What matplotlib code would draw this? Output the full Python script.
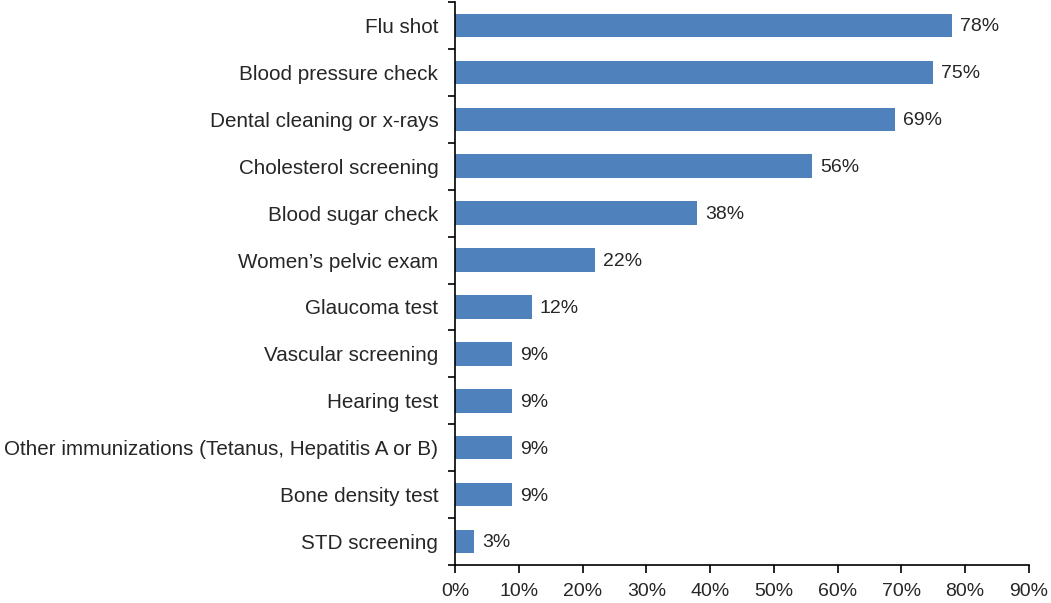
import matplotlib

matplotlib.use("Agg")
import matplotlib.pyplot as plt
from matplotlib.ticker import FixedLocator, PercentFormatter

categories = [
    "Flu shot",
    "Blood pressure check",
    "Dental cleaning or x-rays",
    "Cholesterol screening",
    "Blood sugar check",
    "Women\u2019s pelvic exam",
    "Glaucoma test",
    "Vascular screening",
    "Hearing test",
    "Other immunizations (Tetanus, Hepatitis A or B)",
    "Bone density test",
    "STD screening",
]
shares = [78, 75, 69, 56, 38, 22, 12, 9, 9, 9, 9, 3]
x_ticks = [0, 10, 20, 30, 40, 50, 60, 70, 80, 90]

plt.rcParams["font.family"] = ["Liberation Sans", "DejaVu Sans"]
text_color = "#262626"

fig = plt.figure(figsize=(10.51, 6.03), dpi=100)
ax = fig.add_axes([0.4329, 0.063, 0.979 - 0.4329, 0.9967 - 0.063])

positions = list(range(len(categories)))
bars = ax.barh(positions, shares, height=0.5, color="#4F81BD", zorder=2)
for bar, value in zip(bars, shares):
    ax.text(value + 1.2, bar.get_y() + bar.get_height() / 2 + 0.03, f"{value}%",
            va="center", ha="left", fontsize=14, color=text_color)

ax.set_xlim(0, 90)
ax.set_ylim(len(categories) - 0.5, -0.5)
ax.xaxis.set_major_locator(FixedLocator(x_ticks))
ax.xaxis.set_major_formatter(PercentFormatter(decimals=0))

# category labels sit between the tick marks that split the bands
ax.set_yticks(positions)
ax.set_yticklabels(categories)
ax.set_yticks([p - 0.5 for p in positions] + [len(categories) - 0.5], minor=True)
ax.tick_params(axis="y", which="major", length=0, pad=12, labelsize=14.9, labelcolor=text_color)
ax.tick_params(axis="y", which="minor", length=5, width=1.2, direction="out", color="#000000")
ax.tick_params(axis="x", length=6, width=1.2, direction="out", pad=7, labelsize=14,
               labelcolor=text_color)

for side in ("top", "right"):
    ax.spines[side].set_visible(False)
for side in ("left", "bottom"):
    ax.spines[side].set_linewidth(1.2)

fig.savefig("out.png", dpi=100)
plt.close(fig)
